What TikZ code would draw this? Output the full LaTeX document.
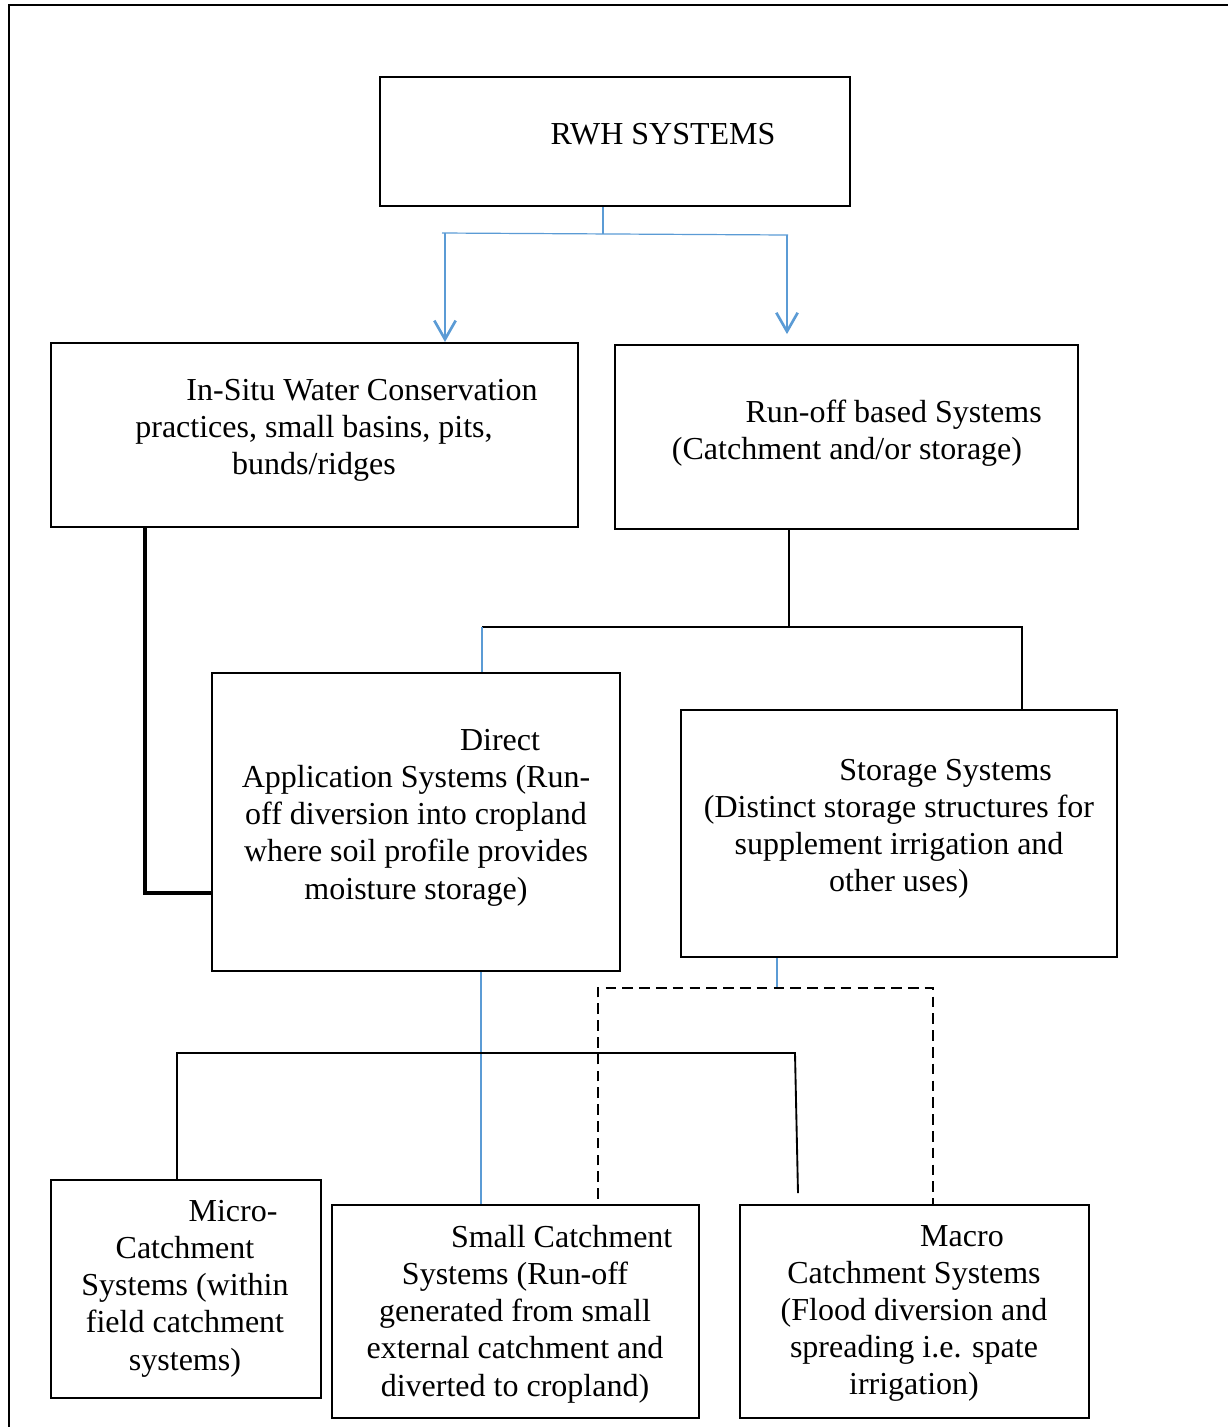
\documentclass[tikz,border=0pt]{standalone}
\usepackage{fontspec}
\setmainfont{Liberation Serif}
\usetikzlibrary{arrows.meta,fit}
\definecolor{linkblue}{RGB}{91,155,213}

\begin{document}
\begin{tikzpicture}[x=0.375pt,y=-0.375pt,
  box/.style={draw=black,line width=0.8pt,inner sep=0pt},
  txt/.style={align=center,inner sep=0pt,anchor=north,yshift=-0.75pt,
    font=\fontsize{12pt}{13.9pt}\selectfont},
  conn/.style={draw=black,line width=0.7pt},
  heavy/.style={draw=black,line width=1.3pt},
  thinblue/.style={draw=linkblue,line width=0.45pt},
  arrowblue/.style={draw=linkblue,line width=1pt,
    -{Straight Barb[length=7pt,width=8pt]}},
  dashconn/.style={draw=black,line width=0.75pt,dash pattern=on 4pt off 2.3pt}]

\useasboundingbox (0,0) rectangle (1228,1427);

% page frame
\draw[line width=1pt] (9,1427) -- (9,5) -- (1228,5);

% boxes
\node[box,fit={(380,77)(850,206)}] (rwh) {};
\node[box,fit={(51,343)(578,527)}] (insitu) {};
\node[box,fit={(615,345)(1078,529)}] (runoff) {};
\node[box,fit={(212,673)(620,971)}] (direct) {};
\node[box,fit={(681,710)(1117,957)}] (storage) {};
\node[box,fit={(51,1180)(321,1398)}] (micro) {};
\node[box,fit={(332,1205)(699,1418)}] (small) {};
\node[box,fit={(740,1205)(1089,1418)}] (macro) {};

% labels
\node[txt] (rwh-t) at (663,121) {RWH SYSTEMS};
\node[txt] (insitu-t) at (314,377)
  {\hspace*{36pt}In-Situ Water Conservation\\practices, small basins, pits,\\bunds/ridges};
\node[txt] (runoff-t) at (847,397)
  {\hspace*{35pt}Run-off based Systems\\(Catchment and/or storage)};
\node[txt] (direct-t) at (416,727)
  {\hspace*{63pt}Direct\\Application Systems (Run-\\off diversion into cropland\\where soil profile provides\\moisture storage)};
\node[txt] (storage-t) at (899,757)
  {\hspace*{35pt}Storage Systems\\(Distinct storage structures for\\supplement irrigation and\\other uses)};
\node[txt] (micro-t) at (185,1198)
  {\hspace*{36pt}Micro-\\Catchment\\Systems (within\\field catchment\\systems)};
\node[txt] (small-t) at (515,1223)
  {\hspace*{35pt}Small Catchment\\Systems (Run-off\\generated from small\\external catchment and\\diverted to cropland)};
\node[txt] (macro-t) at (914,1223)
  {\hspace*{36pt}Macro\\Catchment Systems\\(Flood diversion and\\spreading i.e. spate\\irrigation)};

% junction points
\coordinate (jTop) at (603,234);
\coordinate (jL) at (442,233);
\coordinate (jR) at (788,235);
\coordinate (aL) at (445,233);
\coordinate (aR) at (787,235);
\coordinate (k1) at (145,893);
\coordinate (r1) at (789,627);
\coordinate (rL) at (482,627);
\coordinate (rR) at (1022,627);
\coordinate (d1) at (481,1053);
\coordinate (mL) at (177,1053);
\coordinate (mR) at (795,1053);
\coordinate (mE) at (798,1193);
\coordinate (sTop) at (777,988);
\coordinate (sL) at (598,988);
\coordinate (sR) at (933,988);

% RWH systems split
\draw[thinblue] (rwh.south -| jTop) -- (jTop);
\draw[thinblue] (jL) -- (jR);
\draw[arrowblue] (aL) -- (aL |- insitu.north);
\draw[arrowblue,shorten >=3.7pt] (aR) -- (aR |- runoff.north);

% in-situ to direct application
\draw[heavy] (insitu.south -| k1) -- (k1) -- (direct.west |- k1);

% run-off based split
\draw[conn] (runoff.south -| r1) -- (r1);
\draw[conn] (rL) -- (rR) -- (storage.north -| rR);
\draw[thinblue] (rL) -- (direct.north -| rL);

% direct application to small catchment
\draw[thinblue] (direct.south -| d1) -- (small.north -| d1);
\draw[conn] (micro.north -| mL) -- (mL) -- (mR) -- (mE);

% storage systems split
\draw[thinblue] (storage.south -| sTop) -- (sTop);
\draw[dashconn,shorten <=1.9pt] (sL |- small.north) -- (sL) -- (sR) -- (sR |- macro.north);

\end{tikzpicture}
\end{document}
